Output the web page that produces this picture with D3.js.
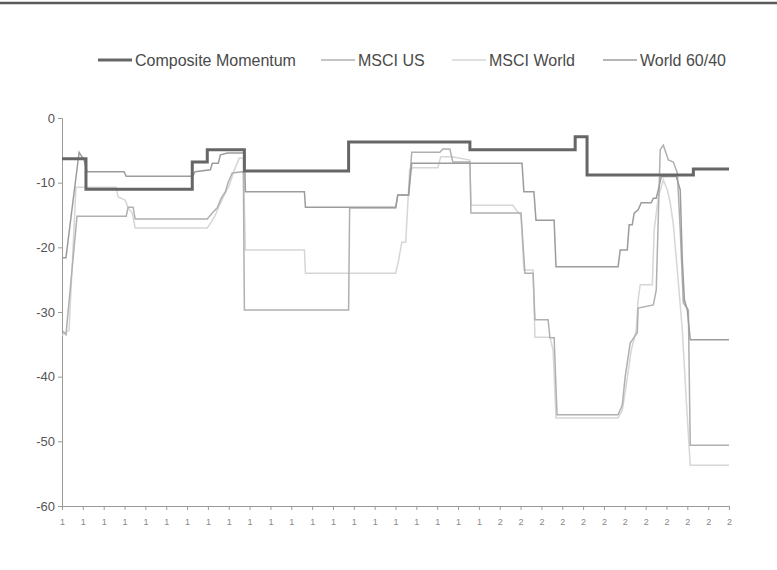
<!DOCTYPE html>
<html><head><meta charset="utf-8">
<script src="https://cdn.jsdelivr.net/npm/d3@7"></script>
<style>body{margin:0;background:#fff}svg{display:block}</style>
</head><body><svg id="c" width="777" height="570"></svg>
<script>
const xTickLabels = ["1","1","1","1","1","1","1","1","1","1","1","1","1","1","1","1","1","1","1","1","1",
                     "2","2","2","2","2","2","2","2","2","2","2","2"];
const yTicks = [0,-10,-20,-30,-40,-50,-60];
const seriesNames = ["Composite Momentum","MSCI US","MSCI World","World 60/40"];

const compositeT = [0,1.15,6.25,6.97,8.75,13.75,19.57,24.62,25.19,30.29,32];
const compositeV = [-6.3,-11.0,-6.8,-4.9,-8.2,-3.7,-4.9,-2.9,-8.8,-7.9,-7.9];

const usT = [0,0.19,0.72,3.08,3.17,3.41,3.51,6.97,7.21,7.45,7.64,7.84,7.98,8.17,8.7,8.75,13.75,13.8,16.01,16.11,16.63,16.78,18.13,18.27,18.61,18.75,19.57,19.62,22.02,22.21,22.6,22.69,23.32,23.41,23.61,23.75,26.68,26.88,27.02,27.26,27.6,27.64,28.37,28.51,28.7,28.85,29.09,29.33,29.52,29.66,29.81,30.05,30.14,32];
const usV = [-32.8,-33.5,-15.2,-15.2,-13.8,-13.8,-15.6,-15.6,-14.7,-13.9,-12.4,-11.4,-9.9,-8.5,-8.3,-29.7,-29.7,-13.9,-13.9,-11.9,-11.9,-5.3,-5.3,-4.8,-4.8,-6.8,-6.8,-14.7,-14.7,-24.0,-24.0,-31.2,-31.2,-34.0,-34.0,-45.9,-45.9,-44.4,-40.0,-34.8,-33.2,-29.4,-28.9,-26.6,-4.9,-4.2,-6.5,-6.8,-8.5,-17.3,-28.6,-29.7,-50.6,-50.6];

const worldT = [0,0.34,0.67,2.60,2.69,3.03,3.17,3.37,3.51,6.97,7.16,7.36,7.55,7.79,8.03,8.27,8.51,8.70,8.8,11.63,11.68,16.01,16.15,16.30,16.49,16.68,16.83,18.03,18.17,18.70,19.57,19.62,21.63,21.78,22.02,22.16,22.6,22.69,23.41,23.56,23.70,26.68,26.88,27.07,27.31,27.55,27.64,27.74,28.32,28.41,28.61,28.85,29.04,29.18,29.33,29.52,29.76,29.95,30.14,32];
const worldV = [-33.6,-32.8,-10.7,-10.7,-12.2,-12.7,-13.9,-14.7,-17.0,-17.0,-16.1,-15.0,-13.5,-11.9,-10.4,-8.0,-6.2,-6.2,-20.4,-20.4,-24.0,-24.0,-22.0,-19.2,-19.2,-8.0,-7.7,-7.7,-6.0,-6.0,-6.5,-13.5,-13.5,-14.2,-15.0,-23.5,-23.5,-33.9,-33.9,-35.9,-46.4,-46.4,-45.2,-41.3,-35.9,-32.8,-28.1,-25.8,-25.8,-17.3,-12.2,-9.6,-11.1,-13.1,-16.5,-23.5,-32.8,-43.6,-53.7,-53.7];

const w6040T = [0,0.19,0.82,1.06,1.2,2.98,3.08,6.25,6.39,7.12,7.21,7.5,7.6,7.93,8.75,8.8,11.63,11.68,16.01,16.11,16.63,16.78,22.07,22.16,22.64,22.74,23.61,23.7,26.68,26.78,27.12,27.21,27.36,27.45,27.64,27.79,28.27,28.37,28.51,28.61,28.75,29.47,29.66,29.76,29.86,30.0,30.14,32];
const w6040V = [-21.6,-21.6,-5.3,-6.5,-8.3,-8.3,-9.0,-9.0,-8.3,-8.0,-7.0,-7.0,-5.7,-5.4,-5.4,-11.4,-11.4,-13.8,-13.8,-11.9,-11.9,-7.0,-7.0,-11.4,-11.4,-15.8,-15.8,-23.0,-23.0,-20.4,-20.4,-16.5,-16.5,-14.7,-14.2,-13.1,-13.1,-12.4,-12.4,-11.1,-9.1,-9.0,-11.1,-22.0,-28.1,-29.7,-34.3,-34.3];

const svg = d3.select("#c");
const font = "'Liberation Sans', Arial, sans-serif";

// top border rule
svg.append("line").attr("x1",0).attr("x2",777).attr("y1",3).attr("y2",3)
  .attr("stroke","#5a5a5a").attr("stroke-width",2.5);

const x = d3.scaleLinear().domain([0,32]).range([62,729]);
const y = d3.scaleLinear().domain([-60,0]).range([506,118]);

// y axis
const ya = svg.append("g").attr("transform","translate(62,0)")
  .call(d3.axisLeft(y).tickValues(yTicks).tickSize(4).tickPadding(3).tickFormat(d=>String(d)));
ya.select(".domain").attr("stroke","#9a9a9a");
ya.selectAll(".tick line").attr("stroke","#9a9a9a");
ya.selectAll("text").attr("fill","#555").style("font-family",font).style("font-size","13px");

// x axis
const xa = svg.append("g").attr("transform","translate(0,506)")
  .call(d3.axisBottom(x).tickValues(d3.range(xTickLabels.length)).tickSize(4).tickPadding(9)
  .tickFormat((d,i)=>xTickLabels[i]));
xa.select(".domain").attr("stroke","#9a9a9a");
xa.selectAll(".tick line").attr("stroke","#9a9a9a");
xa.selectAll("text").attr("fill","#888").style("font-family",font).style("font-size","9px");

const styles = [
  {name:seriesNames[0], T:compositeT, V:compositeV, color:"#666666", w:3, curve:d3.curveStepAfter},
  {name:seriesNames[1], T:usT, V:usV, color:"#b0b0b0", w:1.5, curve:d3.curveLinear},
  {name:seriesNames[2], T:worldT, V:worldV, color:"#d6d6d6", w:1.5, curve:d3.curveLinear},
  {name:seriesNames[3], T:w6040T, V:w6040V, color:"#9c9c9c", w:1.5, curve:d3.curveLinear}
];

const drawOrder = [2,1,3,0];
drawOrder.forEach(k=>{
  const s = styles[k];
  const line = d3.line().x(d=>x(d[0])).y(d=>y(d[1])).curve(s.curve);
  svg.append("path").datum(d3.zip(s.T,s.V)).attr("d",line)
    .attr("fill","none").attr("stroke",s.color).attr("stroke-width",s.w)
    .attr("stroke-linejoin","miter");
});

// legend
const legendX = [98,321,452,603];
styles.forEach((s,i)=>{
  const g = svg.append("g").attr("transform",`translate(${legendX[i]},60)`);
  g.append("line").attr("x1",0).attr("x2",34).attr("y1",0).attr("y2",0)
    .attr("stroke",s.color).attr("stroke-width",s.w);
  g.append("text").attr("x",37).attr("y",5.5).text(s.name)
    .attr("fill","#4a4a4a").style("font-family",font).style("font-size","16px");
});
</script></body></html>
